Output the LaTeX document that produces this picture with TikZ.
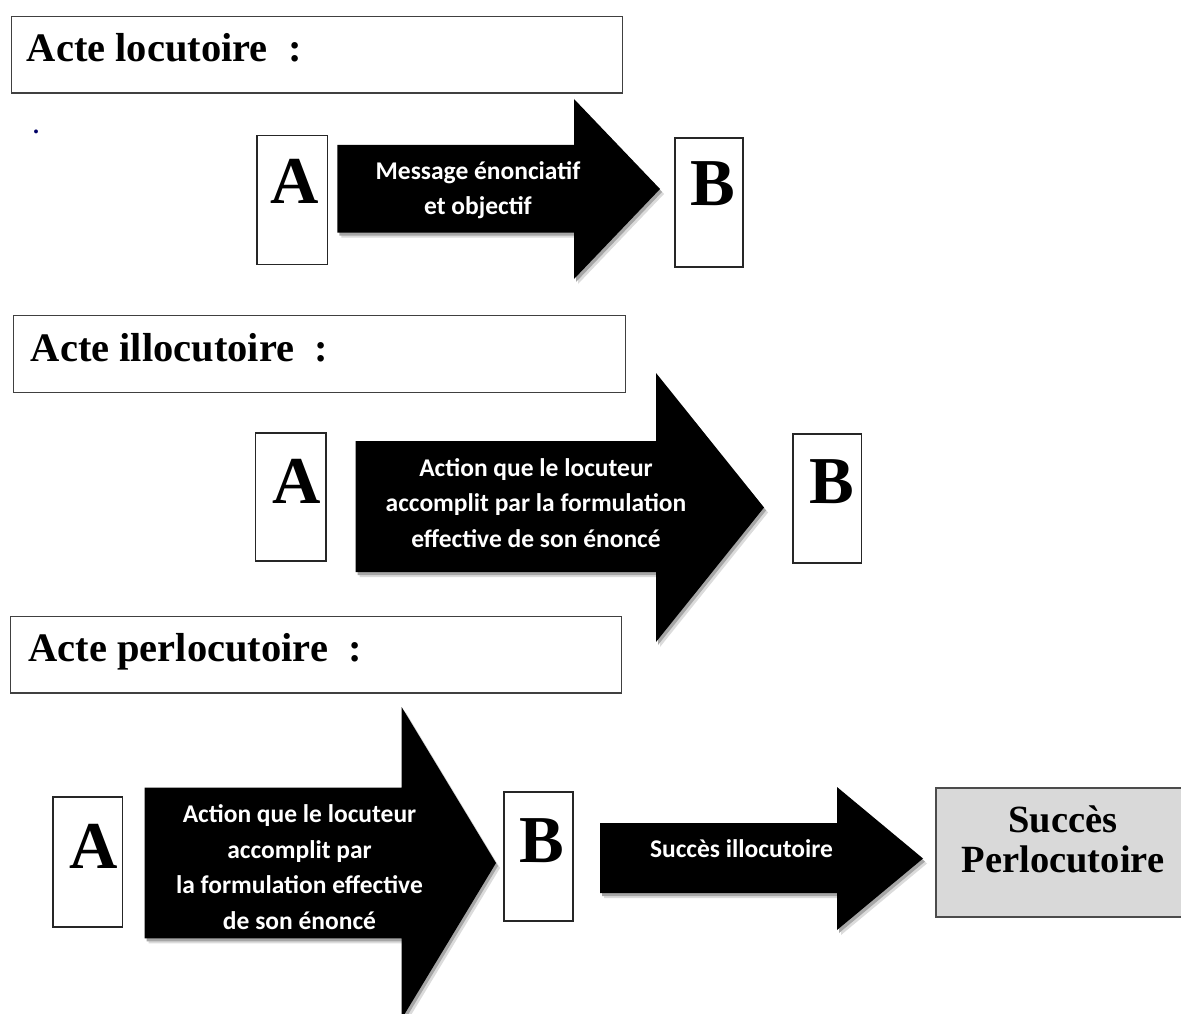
\documentclass[tikz,border=0pt]{standalone}
\usepackage{fontspec}
\setmainfont{Liberation Serif}
\newfontfamily\arrowfont{Carlito}
\newcommand\fatarrow[7]{%
  \foreach \dx/\dy/\col in {4/5/black!14, 2/3/black!35, 0/0/black}{%
    \fill[\col, shift={(\dx,\dy)}] (#1,#2) -- (#4,#2) -- (#4,#5) -- (#7,{(#5+#6)/2}) -- (#4,#6) -- (#4,#3) -- (#1,#3) -- cycle;
  }}
\begin{document}
\begin{tikzpicture}[x=1pt,y=-1pt,
  titlebox/.style={draw=black!75, line width=1.4pt, anchor=north west, inner sep=0pt, minimum width=611pt, minimum height=76.5pt},
  titletext/.style={anchor=base west, inner sep=0pt, font=\fontsize{40.5}{48}\selectfont\bfseries},
  letterbox/.style={draw=black!85, line width=1.1pt, inner sep=0pt, minimum width=69.5pt, minimum height=129pt},
  letter/.style={anchor=base, inner sep=0pt, font=\fontsize{67}{70}\selectfont\bfseries},
  arrowtext/.style={text=white, align=center, inner sep=0pt, font=\arrowfont\fontsize{25.5}{35.5}\selectfont\bfseries},
  resultbox/.style={draw=black!70, line width=1.2pt, fill=black!15, inner sep=0pt, minimum width=254pt, minimum height=129pt},
  resulttext/.style={align=center, inner sep=0pt, font=\fontsize{38.5}{40}\selectfont\bfseries}]
\useasboundingbox (0,0) rectangle (1181,1014);
\fill[white] (0,0) rectangle (1181,1014);

% ---------- Acte locutoire ----------
\node[titlebox] (t1) at (11,16) {};
\node[titletext] (t1txt) at (26.7,61.7) {Acte locutoire\enspace:};
\node[anchor=base, inner sep=0pt, text=blue!40!black, font=\fontsize{24}{24}\selectfont\bfseries] (dot) at (36,134) {.};

\node[letterbox, minimum width=70.5pt] (a1) at (292.25,199.75) {};
\node[letter] (a1l) at (295,203) {A};
\node[letterbox, minimum width=68pt] (b1) at (709,202.5) {};
\node[letter] (b1l) at (713,205) {B};
\fatarrow{337.3}{145}{232.7}{574}{99}{279}{660}
\node[arrowtext] (m1) at (478,190) {Message énonciatif\\et objectif};

% ---------- Acte illocutoire ----------
\node[titlebox, minimum width=612pt] (t2) at (12.7,315) {};
\node[titletext] (t2txt) at (30.7,361) {Acte illocutoire\enspace:};

\node[letterbox, minimum width=70.5pt, minimum height=128pt] (a2) at (290.75,497) {};
\node[letter] (a2l) at (296.5,503) {A};
\node[letterbox, minimum width=68.5pt] (b2) at (827.25,498.5) {};
\node[letter] (b2l) at (831.5,503) {B};
\fatarrow{355.5}{441}{572}{656}{373}{642}{764}
\node[arrowtext] (m2) at (536,503) {Action que le locuteur\\accomplit par la formulation\\effective de son énoncé};

% ---------- Acte perlocutoire ----------
\node[titlebox] (t3) at (10,615.7) {};
\node[titletext] (t3txt) at (28.3,661) {Acte perlocutoire\enspace:};

\node[letterbox, minimum height=130pt] (a3) at (87.75,862) {};
\node[letter] (a3l) at (94,868) {A};
\node[letterbox, minimum width=69pt] (b3) at (538.5,856.5) {};
\node[letter] (b3l) at (542,862) {B};
\fatarrow{144.5}{787.7}{938.3}{401.6}{707}{1019}{496}
\node[arrowtext] (m3) at (299.5,867) {Action que le locuteur\\accomplit par\\la formulation effective\\de son énoncé};

\fatarrow{600}{823}{893}{837}{787}{930}{923}
\node[arrowtext] (m4) at (741.5,849) {Succès illocutoire};

\node[resultbox] (s) at (1063,852.5) {};
\node[resulttext] (stxt) at (1063,839) {Succès\\Perlocutoire};
\end{tikzpicture}
\end{document}
